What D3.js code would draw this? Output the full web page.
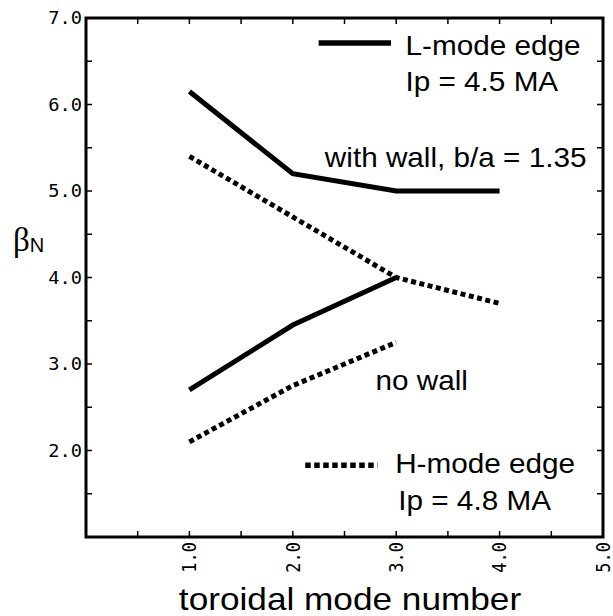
<!DOCTYPE html>
<html>
<head>
<meta charset="utf-8">
<script src="https://cdn.jsdelivr.net/npm/d3@7"></script>
<style>
  html, body { margin: 0; padding: 0; background: #fff; }
  svg { display: block; }
</style>
</head>
<body>
<svg id="chart" width="613" height="616"></svg>
<script>
// toroidal mode numbers and beta_N limits
var modeN = [1, 2, 3, 4];
var lmodeWall = [6.15, 5.2, 5.0, 5.0];     // L-mode edge, with wall
var lmodeNoWall = [2.7, 3.45, 4.0];        // L-mode edge, no wall
var hmodeWall = [5.4, 4.7, 4.0, 3.7];      // H-mode edge, with wall
var hmodeNoWall = [2.1, 2.75, 3.25];       // H-mode edge, no wall

var xTicks = [1, 2, 3, 4, 5];
var yTicks = [2, 3, 4, 5, 6, 7];
var xMinor = d3.range(0, 5.01, 0.5);
var yMinor = d3.range(1, 7.01, 0.5);

var svg = d3.select("#chart");
var x = d3.scaleLinear().domain([0, 5]).range([86, 603]);
var y = d3.scaleLinear().domain([1, 7]).range([537, 18]);
var stretch = 1.1;  // the original lettering is a bit wide

// tick marks, pointing inwards on all four sides
var tickG = svg.append("g").attr("stroke", "#000").attr("stroke-width", 1.5);
xMinor.forEach(function(v) {
	tickG.append("line").attr("x1", x(v)).attr("x2", x(v)).attr("y1", y(1)).attr("y2", y(1) - 6);
	tickG.append("line").attr("x1", x(v)).attr("x2", x(v)).attr("y1", y(7)).attr("y2", y(7) + 6);
});
yMinor.forEach(function(v) {
	tickG.append("line").attr("y1", y(v)).attr("y2", y(v)).attr("x1", x(0)).attr("x2", x(0) + 6);
	tickG.append("line").attr("y1", y(v)).attr("y2", y(v)).attr("x1", x(5)).attr("x2", x(5) - 6);
});

// frame
svg.append("rect")
	.attr("x", x(0)).attr("y", y(7))
	.attr("width", x(5) - x(0)).attr("height", y(1) - y(7))
	.attr("fill", "none").attr("stroke", "#000").attr("stroke-width", 3);

// y tick labels
svg.selectAll(".ylab").data(yTicks).enter().append("text")
	.attr("class", "ylab")
	.attr("transform", function(d) { return "translate(" + (x(0) - 4) + "," + y(d) + ") scale(" + stretch + ",1)"; })
	.attr("dy", "0.36em")
	.attr("text-anchor", "end")
	.style("font-family", "'DejaVu Sans Mono', monospace")
	.style("font-size", "17px")
	.text(function(d) { return d.toFixed(1); });

// x tick labels, rotated
svg.selectAll(".xlab").data(xTicks).enter().append("text")
	.attr("class", "xlab")
	.attr("transform", function(d) { return "translate(" + x(d) + "," + (y(1) + 5) + ") scale(" + stretch + ",1) rotate(-90)"; })
	.attr("dy", "0.36em")
	.attr("text-anchor", "end")
	.style("font-family", "'DejaVu Sans Mono', monospace")
	.style("font-size", "17px")
	.text(function(d) { return d.toFixed(1); });

// axis titles
svg.append("text")
	.attr("transform", "translate(350,610) scale(" + stretch + ",1)")
	.attr("text-anchor", "middle")
	.style("font-family", "'Liberation Sans', Arial, sans-serif")
	.style("font-size", "32px")
	.text("toroidal mode number");

var yTitle = svg.append("text")
	.attr("transform", "translate(13,251)");
yTitle.append("tspan")
	.style("font-family", "'Liberation Serif', 'Times New Roman', serif")
	.style("font-size", "33px")
	.text("β");
yTitle.append("tspan")
	.style("font-family", "'Liberation Sans', Arial, sans-serif")
	.style("font-size", "20px")
	.attr("dy", 1)
	.text("N");

// curves
var line = d3.line()
	.x(function(d) { return x(d[0]); })
	.y(function(d) { return y(d[1]); });

var curves = [
	{ vals: lmodeWall, dash: null },
	{ vals: lmodeNoWall, dash: null },
	{ vals: hmodeWall, dash: "5,3.5" },
	{ vals: hmodeNoWall, dash: "5,3.5" }
];
curves.forEach(function(c) {
	svg.append("path")
		.datum(c.vals.map(function(v, i) { return [modeN[i], v]; }))
		.attr("d", line)
		.attr("fill", "none")
		.attr("stroke", "#000")
		.attr("stroke-width", 5)
		.attr("stroke-dasharray", c.dash);
});

// legend samples (data units)
svg.append("line")
	.attr("x1", x(2.25)).attr("x2", x(2.95)).attr("y1", y(6.71)).attr("y2", y(6.71))
	.attr("stroke", "#000").attr("stroke-width", 5.5);
svg.append("line")
	.attr("x1", x(2.12)).attr("x2", x(2.82)).attr("y1", y(1.83)).attr("y2", y(1.83))
	.attr("stroke", "#000").attr("stroke-width", 5.5)
	.attr("stroke-dasharray", "5.5,3.5");

// labels, placed in data units
var notes = [
	{ t: "L-mode edge", x: 3.09, y: 6.57 },
	{ t: "Ip = 4.5 MA", x: 3.09, y: 6.16 },
	{ t: "with wall, b/a = 1.35", x: 2.31, y: 5.28 },
	{ t: "no wall", x: 2.80, y: 2.70 },
	{ t: "H-mode edge", x: 2.99, y: 1.74 },
	{ t: "Ip = 4.8 MA", x: 3.02, y: 1.31 }
];
svg.selectAll(".note").data(notes).enter().append("text")
	.attr("class", "note")
	.attr("transform", function(d) { return "translate(" + x(d.x) + "," + y(d.y) + ") scale(" + stretch + ",1)"; })
	.style("font-family", "'Liberation Sans', Arial, sans-serif")
	.style("font-size", "27px")
	.text(function(d) { return d.t; });
</script>
</body>
</html>
